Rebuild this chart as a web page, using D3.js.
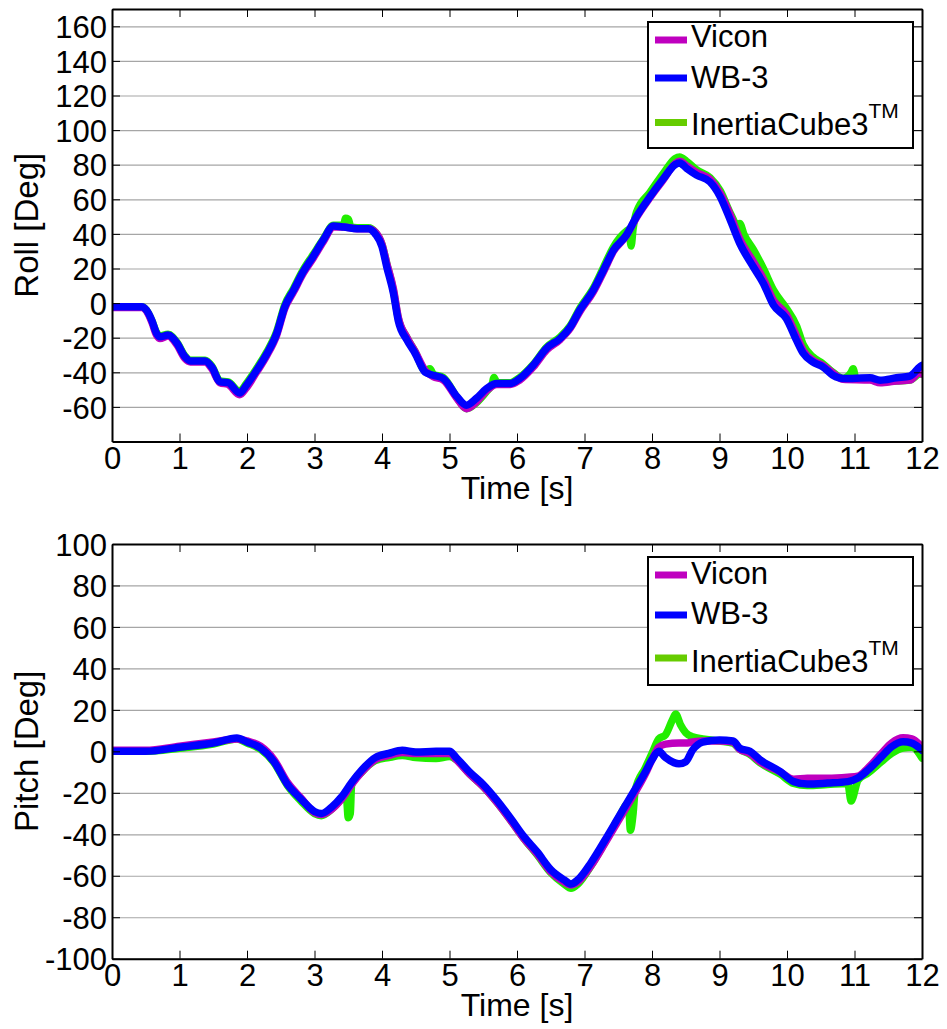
<!DOCTYPE html>
<html><head><meta charset="utf-8">
<script src="https://cdn.jsdelivr.net/npm/d3@7"></script>
<style>
html,body{margin:0;padding:0;background:#fff;}
svg text{font-family:"Liberation Sans",Arial,Helvetica,sans-serif;fill:#000;}
</style></head>
<body>
<svg id="chart" width="947" height="1029"></svg>
<script>
// ---------- DATA ----------
const seriesNames = ["Vicon", "WB-3", "InertiaCube3"];
const xTicks = [0,1,2,3,4,5,6,7,8,9,10,11,12];
const rollTicks = [-60,-40,-20,0,20,40,60,80,100,120,140,160];
const pitchTicks = [-100,-80,-60,-40,-20,0,20,40,60,80,100];

// Roll – shared time base for Vicon and WB-3
const rollTime = [0,0.44,0.51,0.59,0.66,0.71,0.83,0.96,1.08,1.16,1.38,1.48,1.6,1.72,1.89,1.99,2.14,2.29,2.44,2.56,2.69,2.83,2.98,3.13,3.28,3.43,3.63,3.8,3.9,4.0,4.07,4.17,4.24,4.37,4.49,4.64,4.76,4.91,5.11,5.25,5.4,5.55,5.7,5.9,6.04,6.24,6.44,6.64,6.79,6.93,7.13,7.28,7.43,7.62,7.77,7.97,8.17,8.34,8.41,8.51,8.66,8.86,9.01,9.16,9.3,9.5,9.65,9.8,9.99,10.14,10.24,10.38,10.53,10.68,10.83,11.23,11.38,11.62,11.82,11.97,12.0];
const rollWB3 = [-2.1,-2.1,-4,-10,-17.5,-19.5,-18.5,-23,-31,-33.4,-33.4,-37,-45.5,-46,-52,-47.5,-39,-29.5,-17.5,-2,7.5,18,27,36.5,44.5,44,43,43,40,32.6,21,5.6,-10,-21.4,-29,-40,-41.7,-43.6,-54,-59,-55,-49.4,-46.5,-46.5,-43.6,-35.9,-26,-20.4,-13.7,-4,7.5,19,30.7,39.3,50,61.5,72,80,81,78,74,70,61.5,48,34.5,21,11.4,-1.2,-8.9,-21.4,-29,-34,-36.8,-41.7,-43.6,-43.2,-44.6,-43.2,-42.2,-36.8,-36];
const rollVicon = [-2.5,-2.5,-4.5,-11,-18.5,-20.5,-19,-24,-32,-34,-34,-38,-46,-47,-53,-49,-40,-30.5,-18.5,-3,6.5,17,26,35.5,44,44,43,43,41,34,23,8,-8,-20,-28,-39,-42.5,-44.5,-55,-61,-57,-50.5,-47,-47,-44.5,-37,-27,-21,-14.5,-5,6.5,18,30,39,49.5,61,71.5,80.5,82,79.5,75.5,71.5,63.5,51,37,24,14,1.5,-6.5,-19,-27.5,-33,-36,-40.5,-44,-44.5,-46,-45,-44.5,-40,-41];
const rollCubeTime = [0,0.44,0.51,0.59,0.66,0.71,0.83,0.96,1.08,1.16,1.38,1.48,1.6,1.72,1.89,1.99,2.14,2.29,2.44,2.56,2.69,2.83,2.98,3.13,3.28,3.43,3.46,3.5,3.54,3.63,3.8,3.9,4.0,4.07,4.17,4.24,4.37,4.49,4.64,4.71,4.76,4.91,5.11,5.25,5.4,5.55,5.63,5.66,5.7,5.9,6.04,6.24,6.44,6.64,6.79,6.93,7.13,7.28,7.43,7.62,7.66,7.69,7.72,7.77,7.97,8.17,8.34,8.41,8.51,8.66,8.86,9.01,9.16,9.28,9.3,9.36,9.5,9.65,9.8,9.99,10.14,10.24,10.38,10.53,10.68,10.83,10.95,10.98,11.02,11.23,11.38,11.62,11.82,11.97,12.0];
const rollCube = [-2.1,-2.1,-4,-10,-17,-19,-18,-22.5,-30.5,-33,-33,-36.5,-45,-45.5,-51,-46.5,-38,-28.5,-16.5,-1,8.5,19,28,37,45,45,49,48.5,44,43.5,43.5,41,34,23,7,-8.5,-20,-28,-39,-38,-41,-43,-54.5,-61,-57.5,-51,-47,-43,-46,-46,-43,-35.5,-25.5,-19.5,-13,-3,8.5,20.5,32.5,41.5,42.5,33,43,52.5,64,75,83.5,84.5,82,77,72.5,65,52,44,46,40,31,20,7.5,-3,-13,-24,-31,-35,-40,-43.5,-40,-38,-43.5,-44,-45.5,-45,-44.5,-41,-41];

// Pitch – shared time base for Vicon and WB-3
const pitchTime = [0,0.5,1.0,1.5,1.85,2.0,2.2,2.4,2.6,2.8,3.0,3.1,3.25,3.4,3.55,3.7,3.9,4.1,4.3,4.5,4.8,5.0,5.1,5.3,5.5,5.7,5.9,6.1,6.3,6.5,6.7,6.8,6.9,7.1,7.3,7.5,7.7,7.9,8.0,8.1,8.2,8.4,8.5,8.6,8.75,9.0,9.2,9.3,9.45,9.6,9.9,10.1,10.3,10.6,10.9,11.05,11.2,11.4,11.55,11.72,11.85,12.0];
const pitchWB3 = [0,0,2,4,6.4,4.5,1.6,-5,-16,-23,-29,-30,-27,-22,-15,-9,-3,-1,0.5,-0.3,0,0,-3,-10,-16,-23.5,-32,-41,-48.5,-57,-62,-64,-62,-53.5,-43,-32,-21,-10,-4,0,-3,-6,-5,0.6,4.5,5.5,5,1.6,0,-4,-9.8,-14.6,-15.8,-15.3,-14.6,-12.9,-9,-2.6,2.2,4.6,4,0.6];
const pitchVicon = [0.5,0.5,2.5,4.5,6,5,2.5,-4,-15,-22.5,-29.5,-30.5,-28,-23,-16,-10,-4,-2,-0.5,-1,-1,-1,-4,-11,-17,-24.5,-33,-42,-49.5,-58,-63,-64.5,-63,-55,-44.5,-33.5,-22.5,-11,-4,2,3.5,4,4,4.5,5,5,4.5,1,-1,-5,-10,-13.5,-13,-13,-12.5,-12,-8,-1,4,6.5,6,2];
const pitchCubeTime = [0,0.5,1.0,1.5,1.85,2.0,2.2,2.4,2.6,2.8,3.0,3.1,3.25,3.4,3.47,3.5,3.53,3.55,3.7,3.9,4.1,4.3,4.5,4.8,5.0,5.1,5.3,5.5,5.7,5.9,6.1,6.3,6.5,6.7,6.8,6.9,7.1,7.3,7.5,7.65,7.68,7.72,7.75,7.9,8.0,8.1,8.2,8.3,8.35,8.42,8.5,8.6,8.75,9.0,9.2,9.3,9.45,9.6,9.9,10.1,10.3,10.6,10.9,10.95,10.98,11.02,11.05,11.2,11.4,11.55,11.72,11.85,12.0];
const pitchCube = [0,0,1.5,3.5,6,4,1,-5.5,-16.5,-24,-30,-31,-28,-23,-21,-32,-30,-16,-10,-4.5,-3,-2,-3,-3.5,-2.5,-4,-11,-17,-24.5,-33,-42,-50,-58.5,-64,-66,-64,-55,-44,-32.5,-25,-38,-30,-19,-8,-1,6,8,15,18,13,9,7,6,5,4,1,-1.5,-5.5,-11,-15.5,-16.5,-16,-15.5,-24,-22,-17,-14,-10.5,-5,-1,1.6,2,-3.2];

// ---------- DRAWING ----------
const colors = {"Vicon":"#bf00bf","WB-3":"#0000ff","InertiaCube3":"#22ee00"};
const legendColors = {"Vicon":"#bf00bf","WB-3":"#0000ff","InertiaCube3":"#66cc00"};
const svg = d3.select("#chart");
const FS = 31;

function zip(t, v){ return t.map((d,i)=>[d, v[i]]); }

function panel(cfg){
  const x = d3.scaleLinear().domain([0,12]).range([112,922]);
  const y = d3.scaleLinear().domain(cfg.domain).range([cfg.bottom, cfg.top]);
  const g = svg.append("g");
  const W = 922-112, H = cfg.bottom-cfg.top;

  // grid
  g.append("g").attr("transform","translate(112,0)")
    .call(d3.axisLeft(y).tickValues(cfg.yTicks).tickSize(-W).tickFormat(""))
    .call(a=>a.select(".domain").remove())
    .call(a=>a.selectAll("line").attr("stroke","#a6a6a6").attr("stroke-width",1.2));

  // clip
  const cid = "clip"+cfg.id;
  svg.append("clipPath").attr("id",cid).append("rect")
    .attr("x",112).attr("y",cfg.top).attr("width",W).attr("height",H);

  const line = d3.line().x(d=>x(d[0])).y(d=>y(d[1])).curve(d3.curveMonotoneX);
  const lg = g.append("g").attr("clip-path",`url(#${cid})`);
  cfg.series.forEach(s=>{
    lg.append("path").datum(zip(s.t, s.v))
      .attr("fill","none").attr("stroke",colors[s.name])
      .attr("stroke-width",7.5).attr("stroke-linejoin","round").attr("stroke-linecap","round")
      .attr("d",line);
  });

  const fmt = d=>String(d);
  // axes
  const axB = g.append("g").attr("transform",`translate(0,${cfg.bottom})`)
    .call(d3.axisBottom(x).tickValues(xTicks).tickSizeInner(-8).tickSizeOuter(0).tickPadding(5).tickFormat(fmt));
  const axT = g.append("g").attr("transform",`translate(0,${cfg.top})`)
    .call(d3.axisTop(x).tickValues(xTicks).tickSizeInner(-8).tickSizeOuter(0).tickFormat(""));
  const axL = g.append("g").attr("transform","translate(112,0)")
    .call(d3.axisLeft(y).tickValues(cfg.yTicks).tickSizeInner(-8).tickSizeOuter(0).tickPadding(5).tickFormat(fmt));
  const axR = g.append("g").attr("transform","translate(922,0)")
    .call(d3.axisRight(y).tickValues(cfg.yTicks).tickSizeInner(-8).tickSizeOuter(0).tickFormat(""));
  [axB,axT,axL,axR].forEach(a=>{
    a.select(".domain").attr("stroke","#000").attr("stroke-width",2);
    a.selectAll(".tick line").attr("stroke","#000").attr("stroke-width",1);
    a.selectAll("text").attr("font-size",FS).attr("font-family","Liberation Sans, Arial, sans-serif").attr("fill","#000");
  });
  axL.selectAll("text").attr("dy","0.36em");

  // axis titles
  g.append("text").attr("x",517).attr("y",cfg.bottom+57).attr("text-anchor","middle")
    .attr("font-size",32).text("Time [s]");
  g.append("text").attr("transform",`translate(38,${(cfg.top+cfg.bottom)/2}) rotate(-90)`)
    .attr("text-anchor","middle").attr("font-size",33).text(cfg.ylabel);

  // legend
  const L = cfg.legend;
  const lgd = g.append("g");
  lgd.append("rect").attr("x",648).attr("y",L.top).attr("width",265).attr("height",L.h)
    .attr("fill","#fff").attr("stroke","#000").attr("stroke-width",2);
  seriesNames.forEach((n,i)=>{
    lgd.append("line").attr("x1",655).attr("x2",687).attr("y1",L.rows[i]).attr("y2",L.rows[i])
      .attr("stroke",legendColors[n]).attr("stroke-width",7);
    const t = lgd.append("text").attr("x",691).attr("y",L.base[i]).attr("font-size",FS).text(n);
    if(n==="InertiaCube3"){
      t.append("tspan").attr("font-size",21).attr("dy",-17).text("TM");
    }
  });
}

panel({id:"roll", domain:[-80,170], top:9, bottom:441.5, yTicks:rollTicks, ylabel:"Roll [Deg]",
  series:[{name:"InertiaCube3",t:rollCubeTime,v:rollCube},{name:"Vicon",t:rollTime,v:rollVicon},{name:"WB-3",t:rollTime,v:rollWB3}],
  legend:{top:22, h:126, rows:[40,78,122.5], base:[47,87.5,135]}});
panel({id:"pitch", domain:[-100,100], top:544, bottom:958.7, yTicks:pitchTicks, ylabel:"Pitch [Deg]",
  series:[{name:"InertiaCube3",t:pitchCubeTime,v:pitchCube},{name:"Vicon",t:pitchTime,v:pitchVicon},{name:"WB-3",t:pitchTime,v:pitchWB3}],
  legend:{top:557, h:128, rows:[575,615,658], base:[584,623.5,671.5]}});
</script>
</body></html>
